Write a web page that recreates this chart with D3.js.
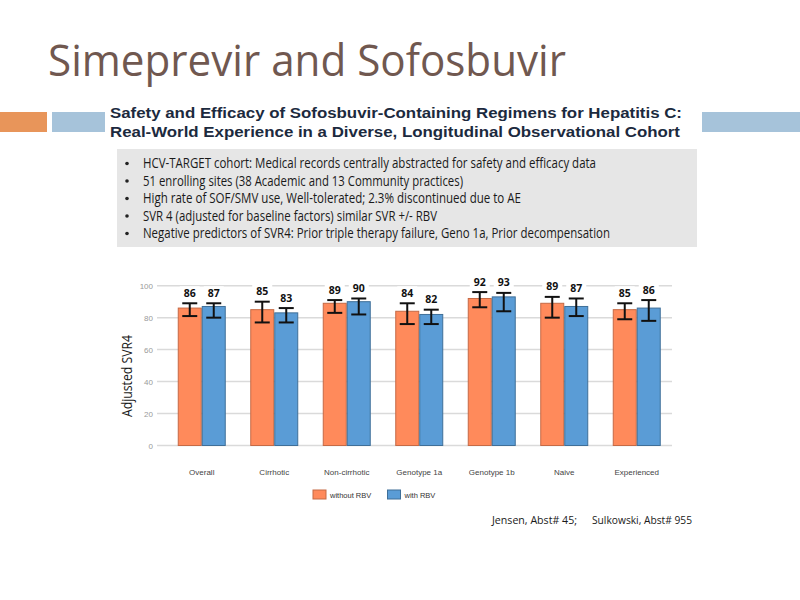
<!DOCTYPE html>
<html>
<head>
<meta charset="utf-8">
<script src="https://cdn.jsdelivr.net/npm/d3@7"></script>
<style>
  body { margin: 0; background: #fff; }
  svg { display: block; }
</style>
</head>
<body>
<div id="chart"></div>
<script>
var categories = ["Overall", "Cirrhotic", "Non-cirrhotic", "Genotype 1a", "Genotype 1b", "Naive", "Experienced"];
var seriesNames = ["without RBV", "with RBV"];
var withoutRBV = [86, 85, 89, 84, 92, 89, 85];
var withRBV = [87, 83, 90, 82, 93, 87, 86];
var withoutLow = [81, 77, 83, 76, 86.5, 80, 79];
var withoutHigh = [89, 90, 91, 89, 96, 93, 89];
var withLow = [80, 77, 82, 76, 84, 81, 78];
var withHigh = [89, 86, 92, 85, 95.5, 92, 91];
var yTicks = [0, 20, 40, 60, 80, 100];

var bullets = [
  "HCV-TARGET cohort: Medical records centrally abstracted for safety and efficacy data",
  "51 enrolling sites (38 Academic and 13 Community practices)",
  "High rate of SOF/SMV use, Well-tolerated; 2.3% discontinued due to AE",
  "SVR 4 (adjusted for baseline factors) similar SVR +/- RBV",
  "Negative predictors of SVR4: Prior triple therapy failure, Geno 1a, Prior decompensation"
];
var bulletWidths = [453, 320, 378, 294, 467];

var colors = {fill: ["#ff8a5b", "#5a9cd6"], stroke: ["#c56a45", "#3f6f98"]};

var svg = d3.select("#chart").append("svg")
    .attr("width", 800)
    .attr("height", 600);

// slide header
svg.append("text")
    .attr("x", 48).attr("y", 76)
    .attr("textLength", 518).attr("lengthAdjust", "spacingAndGlyphs")
    .style("font-family", "'Open Sans', 'Noto Sans', sans-serif")
    .style("font-size", "43px")
    .attr("fill", "#705850")
    .text("Simeprevir and Sofosbuvir");

svg.append("rect").attr("x", 0).attr("y", 112).attr("width", 47).attr("height", 20).attr("fill", "#e8955a");
svg.append("rect").attr("x", 52).attr("y", 112).attr("width", 53).attr("height", 20).attr("fill", "#a6c3da");
svg.append("rect").attr("x", 702).attr("y", 112).attr("width", 98).attr("height", 20).attr("fill", "#a6c3da");

var sub = ["Safety and Efficacy of Sofosbuvir-Containing Regimens for Hepatitis C:",
           "Real-World Experience in a Diverse, Longitudinal Observational Cohort"];
svg.selectAll("text.sub").data(sub).enter().append("text")
    .attr("class", "sub")
    .attr("x", 110)
    .attr("y", function(d, i) { return 118 + i * 19; })
    .attr("textLength", function(d, i) { return i == 0 ? 572 : 570; })
    .attr("lengthAdjust", "spacingAndGlyphs")
    .style("font-family", "'Liberation Sans', Arial, sans-serif")
    .style("font-weight", "bold")
    .style("font-size", "14px")
    .attr("fill", "#1c2a3e")
    .text(function(d) { return d; });

// bullet box
svg.append("rect")
    .attr("x", 117).attr("y", 149)
    .attr("width", 580).attr("height", 98)
    .attr("fill", "#e6e6e6");

var bl = svg.append("g").selectAll("g").data(bullets).enter().append("g")
    .attr("transform", function(d, i) { return "translate(0," + (168 + i * 17.5) + ")"; });
bl.append("circle").attr("cx", 127).attr("cy", -4.5).attr("r", 1.8).attr("fill", "#222");
bl.append("text")
    .attr("x", 143)
    .attr("textLength", function(d, i) { return bulletWidths[i]; })
    .attr("lengthAdjust", "spacingAndGlyphs")
    .style("font-family", "'Open Sans', 'Noto Sans', sans-serif")
    .style("font-size", "14px")
    .attr("fill", "#1a1a1a")
    .text(function(d) { return d; });

// chart
var x0 = d3.scaleBand().domain(categories).range([165.5, 673]).paddingInner(0.338).paddingOuter(0.169);
var x1 = d3.scaleBand().domain(seriesNames).range([0, x0.bandwidth()]);
var y = d3.scaleLinear().domain([0, 100]).range([445.5, 285.7]);

var grid = svg.append("g");
grid.selectAll("line").data(yTicks).enter().append("line")
    .attr("x1", 157).attr("x2", 672)
    .attr("y1", function(d) { return y(d); })
    .attr("y2", function(d) { return y(d); })
    .attr("stroke", "#dadada")
    .attr("stroke-width", 1.5);
grid.selectAll("text").data(yTicks).enter().append("text")
    .attr("x", 153)
    .attr("y", function(d) { return y(d) + 3; })
    .attr("text-anchor", "end")
    .style("font-family", "'Liberation Sans', Arial, sans-serif")
    .style("font-size", "8px")
    .attr("fill", "#9a9a9a")
    .text(function(d) { return d; });

svg.append("text")
    .attr("transform", "translate(132,376) rotate(-90)")
    .attr("text-anchor", "middle")
    .attr("textLength", 82).attr("lengthAdjust", "spacingAndGlyphs")
    .style("font-family", "'Open Sans', 'Noto Sans', sans-serif")
    .style("font-size", "14px")
    .attr("fill", "#1a1a1a")
    .text("Adjusted SVR4");

var rows = categories.map(function(c, i) {
  return [
    {cat: c, s: seriesNames[0], k: 0, v: withoutRBV[i], lo: withoutLow[i], hi: withoutHigh[i]},
    {cat: c, s: seriesNames[1], k: 1, v: withRBV[i], lo: withLow[i], hi: withHigh[i]}
  ];
});

var groups = svg.append("g").selectAll("g").data(rows).enter().append("g")
    .attr("transform", function(d) { return "translate(" + x0(d[0].cat) + ",0)"; });

var item = groups.selectAll("g").data(function(d) { return d; }).enter().append("g");

item.append("rect")
    .attr("x", function(d) { return x1(d.s) + 0.5; })
    .attr("y", function(d) { return y(d.v); })
    .attr("width", x1.bandwidth() - 1)
    .attr("height", function(d) { return y(0) - y(d.v); })
    .attr("fill", function(d) { return colors.fill[d.k]; })
    .attr("stroke", function(d) { return colors.stroke[d.k]; })
    .attr("stroke-width", 1);

var cx = function(d) { return x1(d.s) + x1.bandwidth() / 2; };
item.append("line")
    .attr("x1", cx).attr("x2", cx)
    .attr("y1", function(d) { return y(d.lo); })
    .attr("y2", function(d) { return y(d.hi); })
    .attr("stroke", "#111").attr("stroke-width", 2);
item.selectAll("line.cap").data(function(d) { return [d.lo, d.hi].map(function(v) { return {d: d, v: v}; }); })
  .enter().append("line")
    .attr("class", "cap")
    .attr("x1", function(e) { return cx(e.d) - 7.5; })
    .attr("x2", function(e) { return cx(e.d) + 7.5; })
    .attr("y1", function(e) { return y(e.v); })
    .attr("y2", function(e) { return y(e.v); })
    .attr("stroke", "#111").attr("stroke-width", 2);

item.append("rect")
    .attr("x", function(d) { return cx(d) - 10; })
    .attr("y", function(d) { return y(d.hi) - 17; })
    .attr("width", 20).attr("height", 13)
    .attr("fill", "#fff");
item.append("text")
    .attr("x", cx)
    .attr("y", function(d) { return y(d.hi) - 6.5; })
    .attr("text-anchor", "middle")
    .style("font-family", "'Open Sans', 'Noto Sans', sans-serif")
    .style("font-weight", "bold")
    .style("font-size", "10.5px")
    .attr("fill", "#111")
    .text(function(d) { return d.v; });

svg.append("g").selectAll("text").data(categories).enter().append("text")
    .attr("x", function(d) { return x0(d) + x0.bandwidth() / 2; })
    .attr("y", 475)
    .attr("text-anchor", "middle")
    .style("font-family", "'Liberation Sans', Arial, sans-serif")
    .style("font-size", "8px")
    .attr("fill", "#444")
    .text(function(d) { return d; });

// legend
var lg = svg.append("g").selectAll("g").data(seriesNames).enter().append("g")
    .attr("transform", function(d, i) { return "translate(" + (313 + i * 74.5) + ",490)"; });
lg.append("rect")
    .attr("width", 13).attr("height", 9)
    .attr("fill", function(d, i) { return colors.fill[i]; })
    .attr("stroke", function(d, i) { return colors.stroke[i]; });
lg.append("text")
    .attr("x", 17).attr("y", 7.5)
    .style("font-family", "'Liberation Sans', Arial, sans-serif")
    .style("font-size", "7.5px")
    .attr("fill", "#333")
    .text(function(d) { return d; });

// citation
var cites = [{t: "Jensen, Abst# 45;", x: 492, w: 85}, {t: "Sulkowski, Abst# 955", x: 592, w: 100}];
svg.selectAll("text.cite").data(cites).enter().append("text")
    .attr("class", "cite")
    .attr("x", function(d) { return d.x; })
    .attr("y", 524)
    .attr("textLength", function(d) { return d.w; })
    .attr("lengthAdjust", "spacingAndGlyphs")
    .style("font-family", "'Open Sans', 'Noto Sans', sans-serif")
    .style("font-size", "11.5px")
    .attr("fill", "#1a1a1a")
    .text(function(d) { return d.t; });
</script>
</body>
</html>
